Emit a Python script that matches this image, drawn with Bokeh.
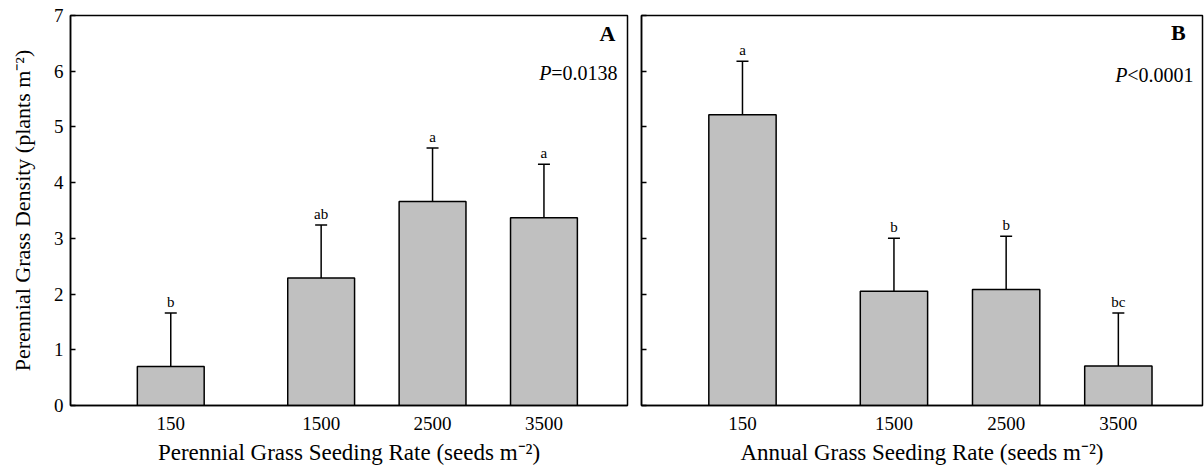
from bokeh.plotting import figure
from bokeh.layouts import row
from bokeh.models import FixedTicker, ColumnDataSource, Label, Whisker, TeeHead, Range1d
from bokeh.core.properties import value
from bokeh.embed import file_html
from bokeh.resources import INLINE

# ---- data ----
rates = [150, 1500, 2500, 3500]
rate_labels = ["150", "1500", "2500", "3500"]

perennial_density = [0.70, 2.29, 3.66, 3.37]
perennial_se = [0.96, 0.95, 0.96, 0.96]
perennial_letters = ["b", "ab", "a", "a"]

annual_density = [5.22, 2.05, 2.08, 0.71]
annual_se = [0.96, 0.95, 0.96, 0.95]
annual_letters = ["a", "b", "b", "bc"]

y_ticks = [0, 1, 2, 3, 4, 5, 6, 7]

FONT = "Liberation Serif"


def make_panel(dens, se, letters, panel, ptext_sym, ptext_val, xlabel, ylabel,
               width, height, bl, br, bt, bb, show_ylabels):
    p = figure(width=width, height=height, output_backend="svg", toolbar_location=None,
               x_range=Range1d(-750, 4250), y_range=Range1d(0, 7),
               min_border_left=bl, min_border_right=br, min_border_top=bt, min_border_bottom=bb)
    p.xgrid.visible = False
    p.ygrid.visible = False
    p.outline_line_color = "black"
    p.outline_line_width = 1.5
    p.background_fill_color = "white"
    p.border_fill_color = "white"

    src = ColumnDataSource(dict(
        x=rates, top=dens, hi=[d + s for d, s in zip(dens, se)], letter=letters))

    p.vbar(x="x", top="top", bottom=0, width=600, source=src,
           fill_color="#c0c0c0", line_color="black", line_width=1.5)
    wh = Whisker(base="x", lower="top", upper="hi", source=src, line_width=1.5,
                 line_color="black", lower_head=None,
                 upper_head=TeeHead(size=12, line_width=1.5, line_color="black"))
    p.add_layout(wh)
    p.text(x="x", y="hi", text="letter", source=src, text_align="center",
           text_baseline="bottom", y_offset=-3, text_font=value(FONT),
           text_font_size="15px", text_color="black")

    # x axis
    xa = p.xaxis[0]
    xa.ticker = FixedTicker(ticks=rates)
    xa.major_label_overrides = {r: l for r, l in zip(rates, rate_labels)}
    xa.major_tick_in = 0
    xa.major_tick_out = 0
    xa.minor_tick_in = 0
    xa.minor_tick_out = 0
    xa.axis_line_width = 1.5
    xa.axis_line_color = "black"
    xa.major_label_text_font = FONT
    xa.major_label_text_font_size = "19px"
    xa.major_label_text_color = "black"
    xa.major_label_standoff = 11
    xa.axis_label = xlabel
    xa.axis_label_text_font = FONT
    xa.axis_label_text_font_size = "23px"
    xa.axis_label_text_font_style = "normal"
    xa.axis_label_text_color = "black"
    xa.axis_label_standoff = 7

    # y axis
    ya = p.yaxis[0]
    ya.ticker = FixedTicker(ticks=y_ticks)
    ya.major_tick_in = 5
    ya.major_tick_out = 0
    ya.minor_tick_in = 0
    ya.minor_tick_out = 0
    ya.axis_line_width = 1.5
    ya.axis_line_color = "black"
    ya.major_tick_line_width = 1.5
    ya.major_label_text_font = FONT
    ya.major_label_text_font_size = "19px"
    ya.major_label_text_color = "black"
    if show_ylabels:
        ya.major_label_standoff = 7
        ya.axis_label = ylabel
        ya.axis_label_text_font = FONT
        ya.axis_label_text_font_size = "22px"
        ya.axis_label_text_font_style = "normal"
        ya.axis_label_text_color = "black"
        ya.axis_label_standoff = 16
    else:
        ya.major_label_overrides = {t: "" for t in y_ticks}
        ya.major_label_standoff = 0

    # panel letter and P value
    p.add_layout(Label(x=panel[1], y=panel[2], text=panel[0], text_align="right",
                       text_baseline="middle", text_font=FONT, text_font_size="22px",
                       text_font_style="bold", text_color="black"))
    p.add_layout(Label(x=ptext_val[1], y=ptext_val[2], text=ptext_val[0], text_align="right",
                       text_baseline="middle", text_font=FONT, text_font_size="20px",
                       text_color="black"))
    p.add_layout(Label(x=ptext_val[1], y=ptext_val[2], x_offset=-66, text=ptext_sym,
                       text_align="right", text_baseline="middle", text_font=FONT,
                       text_font_size="20px", text_font_style="italic", text_color="black"))
    return p


pA = make_panel(perennial_density, perennial_se, perennial_letters,
                ("A", 4142, 6.68), "P", ("=0.0138", 4160, 5.96),
                "Perennial Grass Seeding Rate (seeds m\u207b\u00b2)",
                "Perennial Grass Density (plants m\u207b\u00b2)",
                634, 471, 70, 7, 15, 66, True)
pB = make_panel(annual_density, annual_se, annual_letters,
                ("B", 4099, 6.7), "P", ("<0.0001", 4170, 5.94),
                "Annual Grass Seeding Rate (seeds m\u207b\u00b2)", "",
                570, 471, 7, 2, 13, 65, False)

layout = row(pA, pB)
open("out.html", "w").write(file_html(layout, INLINE))
